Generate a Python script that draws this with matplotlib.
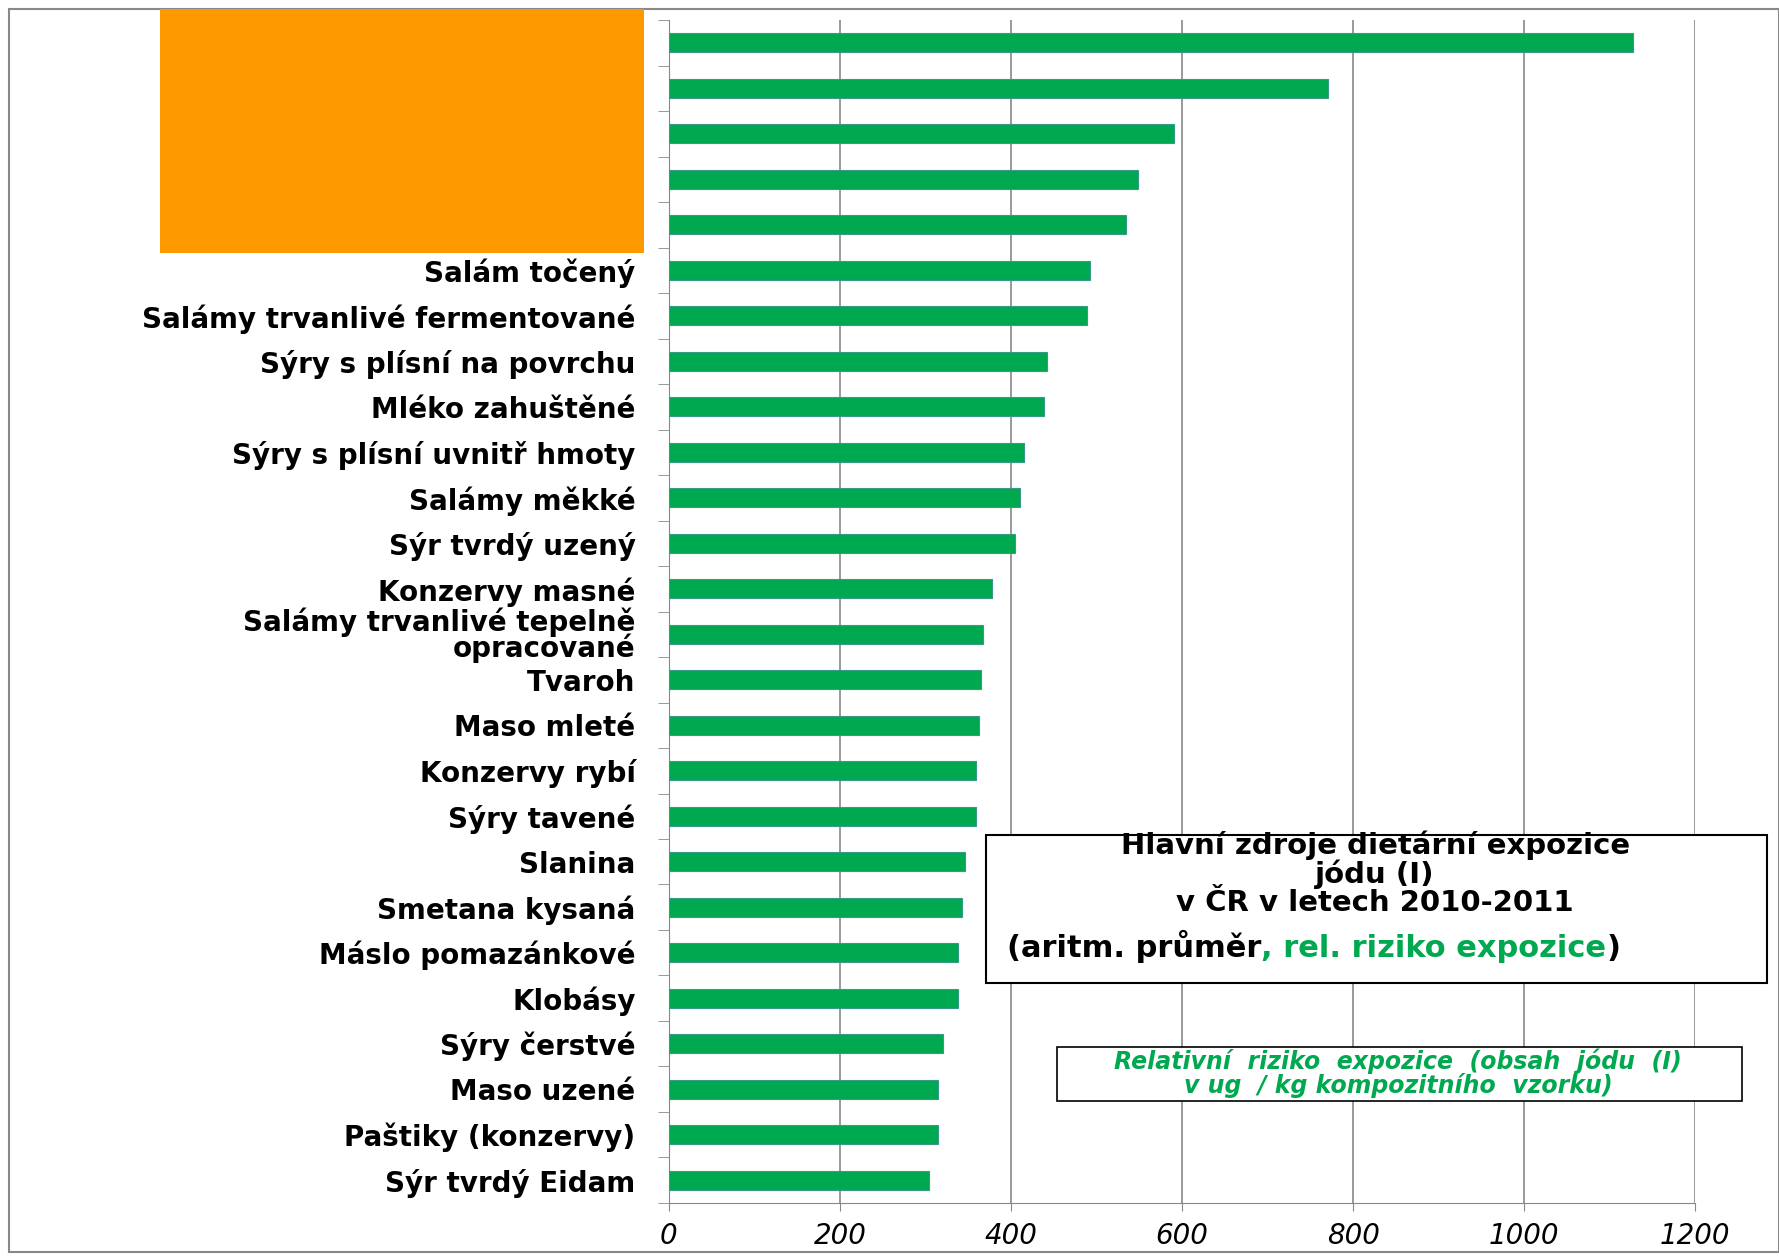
import matplotlib.pyplot as plt
import matplotlib.patches as mpatches
import numpy as np

plt.rcParams['font.family'] = ['DejaVu Sans']

labels = ['', '', '', '', '',
          'Salám točený', 'Salámy trvanlivé fermentované', 'Sýry s plísní na povrchu',
          'Mléko zahuštěné', 'Sýry s plísní uvnitř hmoty', 'Salámy měkké',
          'Sýr tvrdý uzený', 'Konzervy masné', 'Salámy trvanlivé tepelně\nopracované',
          'Tvaroh', 'Maso mleté', 'Konzervy rybí', 'Sýry tavené', 'Slanina',
          'Smetana kysaná', 'Máslo pomazánkové', 'Klobásy', 'Sýry čerstvé',
          'Maso uzené', 'Paštiky (konzervy)', 'Sýr tvrdý Eidam']
values = [1127, 770, 590, 548, 534, 492, 489, 442, 439, 415, 410, 405, 378,
          367, 365, 362, 359, 359, 346, 343, 338, 338, 320, 314, 314, 304]
xticks = [0, 200, 400, 600, 800, 1000, 1200]

fig = plt.figure(figsize=(17.79, 12.57), dpi=100)
ax = fig.add_axes([0.376, 0.043, 0.577, 0.941])

y = np.arange(len(values))
ax.barh(y, values, height=0.42, color='#00a84f', edgecolor='#3a9a8a', linewidth=0.8, zorder=3)
ax.set_ylim(len(values) - 0.5, -0.5)
ax.set_xlim(0, 1200)
ax.set_xticks(xticks)
ax.set_xticklabels([str(t) for t in xticks], fontsize=20, style='italic')
ax.set_yticks(y)
ax.set_yticklabels(labels, fontsize=20, fontweight='bold', linespacing=0.85)
ax.set_yticks(np.arange(len(values) + 1) - 0.5, minor=True)
ax.tick_params(axis='y', which='major', length=0, pad=24)
ax.tick_params(axis='y', which='minor', length=8, color='#888888')
ax.tick_params(axis='x', length=6, color='#888888', pad=8)
ax.grid(axis='x', color='#888888', linewidth=1.2, zorder=0)
for s in ['top', 'right']:
    ax.spines[s].set_visible(False)
ax.spines['left'].set_color('#888888')
ax.spines['bottom'].set_color('#888888')

# outer border
fig.patches.append(mpatches.Rectangle((0.005, 0.004), 0.995, 0.989, transform=fig.transFigure,
                                      fill=False, edgecolor='#888888', linewidth=1.5))
# orange box covering top labels
fig.patches.append(mpatches.Rectangle((0.090, 0.799), 0.272, 0.194, transform=fig.transFigure,
                                      facecolor='#ff9900', edgecolor='none', zorder=5))

# title box
fig.patches.append(mpatches.Rectangle((0.554, 0.218), 0.439, 0.118, transform=fig.transFigure,
                                      facecolor='white', edgecolor='black', linewidth=1.5, zorder=5))
fig.text(0.773, 0.305, 'Hlavní zdroje dietární expozice\njódu (I)\nv ČR v letech 2010-2011',
         ha='center', va='center', fontsize=21, fontweight='bold', linespacing=1.0, zorder=6)
t1 = fig.text(0.566, 0.247, '(aritm. průměr', ha='left', va='center', fontsize=22,
              fontweight='bold', zorder=6)
a2 = fig.add_artist(plt.Annotation(', rel. riziko expozice', xy=(1, 0), xycoords=t1, va='bottom',
                                   ha='left', fontsize=22, fontweight='bold', color='#00a84f',
                                   zorder=6))
fig.add_artist(plt.Annotation(')', xy=(1, 0), xycoords=a2, va='bottom', ha='left', fontsize=22,
                              fontweight='bold', zorder=6))

# legend box
fig.patches.append(mpatches.Rectangle((0.594, 0.124), 0.385, 0.043, transform=fig.transFigure,
                                      facecolor='white', edgecolor='black', linewidth=1.2, zorder=5))
fig.text(0.786, 0.146, 'Relativní  riziko  expozice  (obsah  jódu  (I)\nv ug  / kg kompozitního  vzorku)',
         ha='center', va='center', fontsize=17, fontweight='bold', style='italic',
         color='#00a84f', linespacing=0.95, zorder=6)

fig.savefig('out.png', dpi=100)
